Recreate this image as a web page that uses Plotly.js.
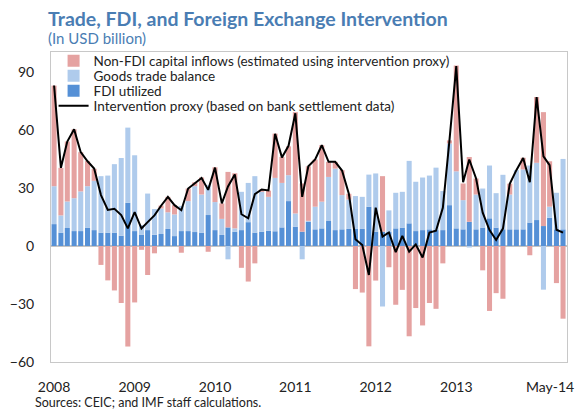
<!DOCTYPE html>
<html>
<head>
<meta charset="utf-8">
<script src="https://cdn.plot.ly/plotly-3.0.1.min.js"></script>
<style>
html,body{margin:0;padding:0;background:#fff;}
#chart{width:583px;height:411px;}
</style>
</head>
<body>
<div id="chart"></div>
<script>
// Monthly categories, Jan 2008 - May 2014
const months = [
 "2008-01","2008-02","2008-03","2008-04","2008-05","2008-06","2008-07","2008-08","2008-09","2008-10","2008-11","2008-12",
 "2009-01","2009-02","2009-03","2009-04","2009-05","2009-06","2009-07","2009-08","2009-09","2009-10","2009-11","2009-12",
 "2010-01","2010-02","2010-03","2010-04","2010-05","2010-06","2010-07","2010-08","2010-09","2010-10","2010-11","2010-12",
 "2011-01","2011-02","2011-03","2011-04","2011-05","2011-06","2011-07","2011-08","2011-09","2011-10","2011-11","2011-12",
 "2012-01","2012-02","2012-03","2012-04","2012-05","2012-06","2012-07","2012-08","2012-09","2012-10","2012-11","2012-12",
 "2013-01","2013-02","2013-03","2013-04","2013-05","2013-06","2013-07","2013-08","2013-09","2013-10","2013-11","2013-12",
 "2014-01","2014-02","2014-03","2014-04","2014-05"
];

// FDI utilized (USD bn)
const fdi = [
 11.3,6.9,9.3,7.7,7.7,9.5,8.2,6.9,6.9,6.9,5.3,22.3,
 7.7,5.7,8.2,5.8,6.2,8.8,5.1,7.7,7.7,7.2,6.9,16.0,
 8.2,5.7,9.6,7.4,8.2,12.3,6.9,7.4,7.9,7.6,9.6,23.2,
 10.0,7.4,12.5,8.6,9.1,12.9,8.2,8.6,8.8,8.8,8.8,20.3,
 7.4,7.4,7.4,9.1,9.5,11.7,7.7,8.2,8.6,8.2,8.2,21.1,
 9.1,8.6,12.5,8.6,9.5,14.3,9.5,8.6,8.6,8.6,8.6,12.1,
 13.4,10.3,14.6,8.6,8.6
];

// Goods trade balance (USD bn)
const goods = [
 19.6,8.9,13.7,17.0,20.5,21.4,25.5,29.2,29.5,35.4,40.2,38.9,
 39.2,5.1,18.9,13.3,13.2,8.6,11.2,13.0,15.5,23.7,19.7,15.4,
 14.5,8.3,-6.9,1.7,19.8,20.3,29.2,20.6,17.5,27.6,23.0,13.4,
 6.8,-6.9,0.5,11.7,13.8,22.8,31.8,17.7,15.2,17.0,16.6,16.6,
 30.1,-31.3,11.0,18.4,18.5,32.3,25.5,27.2,27.8,32.3,20.2,31.9,
 29.5,15.1,-0.8,18.0,20.2,27.3,17.8,28.2,18.0,30.6,31.0,29.5,
 29.6,-22.6,5.7,18.9,36.4
];

// Non-FDI capital inflows, estimated using intervention proxy (USD bn)
const nonFdi = [
 52.0,24.6,31.0,35.6,20.3,13.0,6.2,-9.8,-17.8,-23.0,-29.5,-52.0,
 -29.2,-2.0,-15.0,-3.8,1.5,8.0,4.8,-3.5,6.5,2.0,8.8,-3.0,
 18.0,8.0,28.7,28.5,-11.3,-18.4,-9.0,1.2,3.2,22.9,13.4,14.9,
 52.4,24.9,28.2,24.4,29.2,7.8,3.5,12.9,3.0,-22.3,-24.1,-51.9,
 -17.9,28.7,-11.0,-30.4,-22.7,-46.7,-32.1,-41.1,-29.5,-32.5,-9.0,1.6,
 54.7,8.6,33.5,8.3,-12.6,-33.6,-24.4,-27.3,5.6,0.0,6.0,-4.8,
 34.0,58.9,23.5,-19.2,-37.6
];

// Intervention proxy, based on bank settlement data (USD bn)
const proxy = [
 83.0,40.4,54.0,60.3,48.5,43.8,40.0,26.3,18.6,19.2,16.0,9.1,
 17.5,9.0,12.3,15.8,20.8,25.4,21.1,18.5,29.7,32.6,35.2,29.0,
 40.5,22.0,30.8,37.0,16.4,14.3,26.8,29.2,28.7,58.0,45.8,51.8,
 68.6,25.4,41.2,44.7,52.1,43.5,43.5,39.0,27.0,3.5,0.5,-15.0,
 19.8,4.8,7.0,-3.2,5.2,-3.0,0.8,-6.0,6.9,7.9,19.7,54.6,
 93.0,33.0,44.7,34.9,17.2,8.2,3.1,9.0,32.2,39.2,45.5,33.0,
 77.0,46.3,41.8,8.4,6.9
];

const xTickVals = ["2008-01-01","2009-01-01","2010-01-01","2011-01-01","2012-01-01","2013-01-01","2014-03-03"];
const xTickText = ["2008","2009","2010","2011","2012","2013","May-14"];
const yTickVals = [-60,-30,0,30,60,90];

const FONT = "Lato, 'Open Sans', sans-serif";

const traces = [
 {type:"bar", x:months, y:fdi, name:"FDI utilized", legend:"legend3",
  marker:{color:"#5590d6", line:{width:0}}},
 {type:"bar", x:months, y:goods, name:"Goods trade balance", legend:"legend2",
  marker:{color:"#afcbec", line:{width:0}}},
 {type:"bar", x:months, y:nonFdi, name:"Non-FDI capital inflows (estimated using intervention proxy)", legend:"legend",
  marker:{color:"#e5a2a1", line:{width:0}}},
 {type:"scatter", mode:"lines", x:months, y:proxy, name:"Intervention proxy (based on bank settlement data)", legend:"legend4",
  line:{color:"#000000", width:2}}
];

function leg(yc){
  return {x:0.005, y:yc, xanchor:"left", yanchor:"middle", bgcolor:"rgba(255,255,255,0)",
    font:{family:FONT, size:13.5, color:"#222"}, itemwidth:30, borderwidth:0};
}
// plot area is 52px..362px vertically (310px); item centres at 61,76,91,106 px
const layout = {
 width:583, height:411,
 margin:{l:51, r:16, t:52, b:49},
 paper_bgcolor:"#ffffff", plot_bgcolor:"#ffffff",
 barmode:"relative", bargap:0.18,
 font:{family:FONT, size:14, color:"#222"},
 showlegend:true,
 legend:leg((362-61)/310),
 legend2:leg((362-76)/310),
 legend3:leg((362-91)/310),
 legend4:leg((362-106)/310),
 xaxis:{type:"date", range:["2007-12-18","2014-05-19"],
   tickmode:"array", tickvals:xTickVals, ticktext:xTickText,
   showgrid:false, zeroline:false, ticks:"", showline:true, mirror:true,
   linecolor:"#c8c8c8", linewidth:1, ticklabelstandoff:12,
   tickfont:{family:FONT, size:14, color:"#222"}},
 yaxis:{range:[-60,100.3], tickmode:"array", tickvals:yTickVals,
   showgrid:false, zeroline:true, zerolinecolor:"#c4c4c4", zerolinewidth:1.5,
   ticks:"", showline:true, mirror:true, linecolor:"#c8c8c8", linewidth:1,
   ticklabelstandoff:13, tickfont:{family:FONT, size:14, color:"#222"}},
 annotations:[
  {xref:"paper", yref:"paper", x:0, y:1, xshift:-51+46, yshift:52-5, xanchor:"left", yanchor:"top",
   text:"<b>Trade, FDI, and Foreign Exchange Intervention</b>", showarrow:false,
   font:{family:FONT, size:19.5, color:"#4a7db3"}},
  {xref:"paper", yref:"paper", x:0, y:1, xshift:-51+46, yshift:52-27, xanchor:"left", yanchor:"top",
   text:"(In USD billion)", showarrow:false,
   font:{family:FONT, size:15, color:"#4a7db3"}},
  {xref:"paper", yref:"paper", x:0, y:0, xshift:-51+33, yshift:-49-1, xanchor:"left", yanchor:"bottom",
   text:"Sources: CEIC; and IMF staff calculations.", showarrow:false,
   font:{family:FONT, size:12.5, color:"#222"}}
 ]
};

Plotly.newPlot("chart", traces, layout, {displayModeBar:false, staticPlot:true});
</script>
</body>
</html>
